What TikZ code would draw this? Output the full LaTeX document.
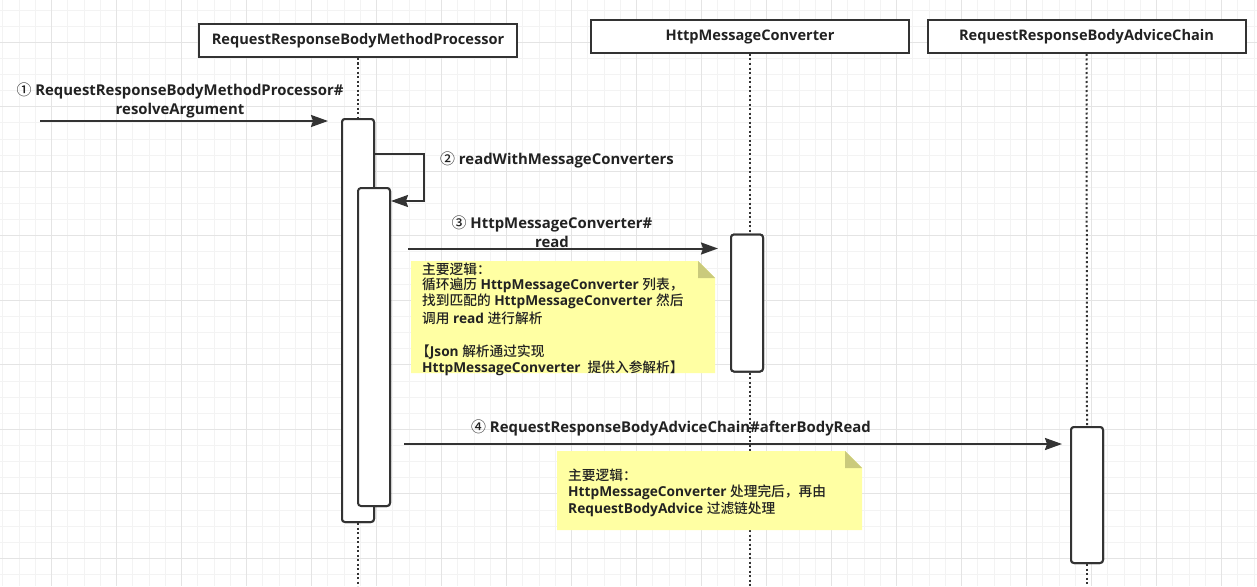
\documentclass[tikz,border=0pt]{standalone}
\usepackage{fontspec}
\setmainfont{Open Sans}
\newfontfamily\cjk{Noto Sans CJK SC}[UprightFont={* Medium}]
\usetikzlibrary{arrows.meta}
\definecolor{ink}{HTML}{333333}
\definecolor{txt}{HTML}{222222}
\definecolor{gridminor}{HTML}{F3F3F3}
\definecolor{gridmajor}{HTML}{E4E4E4}
\definecolor{notefill}{HTML}{FFFFA3}
\definecolor{notefold}{HTML}{CACA7C}
\tikzset{
  headbox/.style={draw=ink, line width=2pt, fill=white, minimum width=318pt, minimum height=33pt, inner sep=0pt, font=\fontsize{14.6}{17}\selectfont\bfseries, text=txt},
  actbox/.style={draw=ink, line width=2pt, fill=white, rounded corners=3pt, minimum width=32pt, inner sep=0pt},
  lifeline/.style={draw=ink, line width=2pt, dash pattern=on 2pt off 2.5pt},
  msg/.style={draw=ink, line width=2pt, -{Stealth[length=17pt,width=12pt,inset=2pt]}},
  msglabel/.style={font=\fontsize{14.9}{19.5}\selectfont\bfseries, text=txt, inner sep=0pt, align=center},
  notetext/.style={font=\fontsize{13.7}{16.5}\selectfont\bfseries, text=txt, inner sep=0pt, anchor=west},
}
\newcommand{\zh}[1]{{\cjk\mdseries #1}}
\begin{document}
\begin{tikzpicture}[x=1pt,y=-1pt]
\useasboundingbox (0,0) rectangle (1257,586);
\fill[white] (0,0) rectangle (1257,586);
% grid
\foreach \i in {0,...,77} {
  \pgfmathsetmacro{\gx}{2.95+16.25*\i}
  \draw[gridminor, line width=1pt] (\gx,0) -- (\gx,586);
}
\foreach \j in {0,...,36} {
  \pgfmathsetmacro{\gy}{10.04+16.13*\j}
  \draw[gridminor, line width=1pt] (0,\gy) -- (1257,\gy);
}
\foreach \i in {0,...,19} {
  \pgfmathsetmacro{\gx}{51.7-65+65*\i}
  \draw[gridmajor, line width=1pt] (\gx,0) -- (\gx,586);
}
\foreach \j in {0,...,9} {
  \pgfmathsetmacro{\gy}{42.3+64.52*\j}
  \draw[gridmajor, line width=1pt] (0,\gy) -- (1257,\gy);
}
% header boxes
\node[headbox] (h1) at (358,40.5) {RequestResponseBodyMethodProcessor};
\node[headbox] (h2) at (750,36.5) {HttpMessageConverter};
\node[headbox] (h3) at (1086.5,36.5) {RequestResponseBodyAdviceChain};
% activations
\node[actbox, minimum height=403pt] (a1) at (358,320.5) {};
\node[actbox, minimum height=318pt] (a2) at (374,347) {};
\node[actbox, minimum height=137pt] (a3) at (747,303) {};
\node[actbox, minimum height=136pt] (a4) at (1087,495) {};
% lifelines
\coordinate (bot1) at (358,586);
\coordinate (bot2) at (750,586);
\coordinate (bot3) at (1087,586);
\path[lifeline] (h1.south) -- (a1.north);
\path[lifeline] (a1.south) -- (bot1);
\path[lifeline] (h2.south) -- (h2.south |- a3.north);
\path[lifeline] (h2.south |- a3.south) -- (bot2);
\path[lifeline] (h3.south) -- (a4.north);
\path[lifeline] (a4.south) -- (bot3);
\node[actbox, minimum height=403pt] at (a1) {};
\node[actbox, minimum height=318pt] at (a2) {};
\node[actbox, minimum height=137pt] at (a3) {};
\node[actbox, minimum height=136pt] at (a4) {};
% notes
\fill[notefill] (411,261) -- (698,261) -- (715,278) -- (715,373) -- (411,373) -- cycle;
\fill[notefold] (698,261) -- (715,278) -- (698,278) -- cycle;
\fill[notefill] (557,451) -- (845,451) -- (862,468) -- (862,530) -- (557,530) -- cycle;
\fill[notefold] (845,451) -- (862,468) -- (845,468) -- cycle;
\node[notetext] (n1l1) at (422,269) {\zh{主要逻辑：}};
\node[notetext] (n1l2) at (422,285) {\zh{循环遍历} HttpMessageConverter \zh{列表，}};
\node[notetext] (n1l3) at (422,301) {\zh{找到匹配的} HttpMessageConverter \zh{然后}};
\node[notetext] (n1l4) at (422,318) {\zh{调用} read \zh{进行解析}};
\node[notetext] (n1l6) at (416,352) {\zh{【}Json \zh{解析通过实现}};
\node[notetext] (n1l7) at (422,368) {HttpMessageConverter~ \zh{提供入参解析】}};
\node[notetext] (n2l1) at (568,475) {\zh{主要逻辑：}};
\node[notetext] (n2l2) at (568,492) {HttpMessageConverter \zh{处理完后，再由}};
\node[notetext] (n2l3) at (568,509) {RequestBodyAdvice \zh{过滤链处理}};
% messages
\coordinate (m1s) at (40,121);
\coordinate (m1e) at (328,121);
\draw[msg] (m1s) -- (m1e);
\node[msglabel] (l1) at (180,100.5) {\zh{①} RequestResponseBodyMethodProcessor\#\\resolveArgument};
\coordinate (s1) at (374,154);
\coordinate (s2) at (424,154);
\coordinate (s3) at (424,201);
\coordinate (s4) at (391,201);
\draw[msg] (s1) -- (s2) -- (s3) -- (s4);
\node[msglabel, anchor=west] (l2) at (440,160) {\zh{②} readWithMessageConverters};
\coordinate (m3s) at (408,248.5);
\coordinate (m3e) at (718,248.5);
\draw[msg] (m3s) -- (m3e);
\node[msglabel] (l3) at (552,232) {\zh{③} HttpMessageConverter\#\\read};
\coordinate (m4s) at (404,444);
\coordinate (m4e) at (1062,444);
\draw[msg] (m4s) -- (m4e);
\node[msglabel] (l4) at (671,428) {\zh{④} RequestResponseBodyAdviceChain\#afterBodyRead};
\end{tikzpicture}
\end{document}
